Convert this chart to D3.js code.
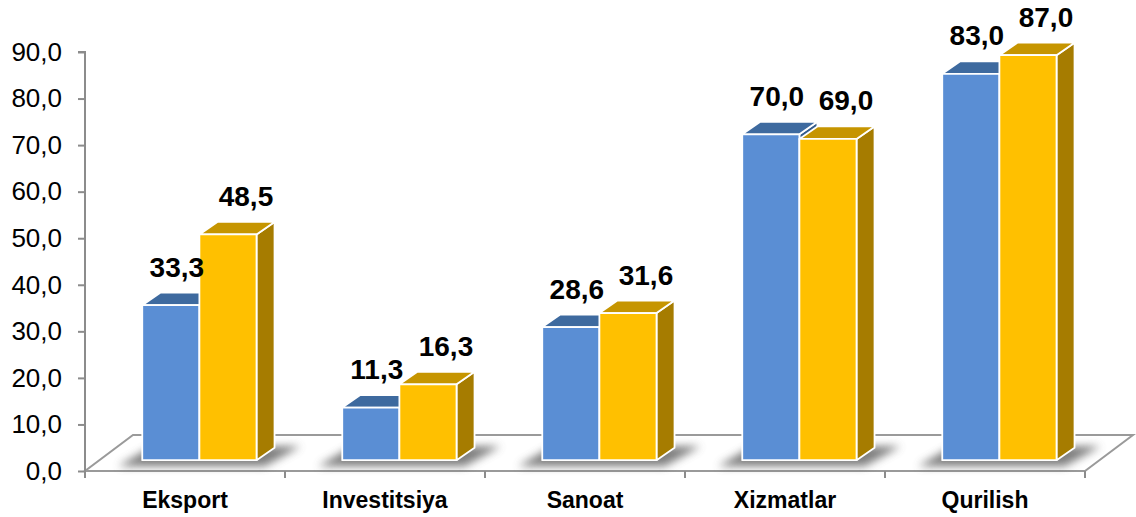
<!DOCTYPE html>
<html>
<head>
<meta charset="utf-8">
<script src="https://cdn.jsdelivr.net/npm/d3@7"></script>
<style>
  body { margin: 0; background: #fff; }
  svg { display: block; font-family: "Liberation Sans", Arial, sans-serif; }
</style>
</head>
<body>
<svg id="chart" width="1136" height="517"></svg>
<script>
// data
const categories = ['Eksport', 'Investitsiya', 'Sanoat', 'Xizmatlar', 'Qurilish']
const seriesNames = ['blue', 'gold']
const blueValues = [33.3, 11.3, 28.6, 70.0, 83.0]
const goldValues = [48.5, 16.3, 31.6, 69.0, 87.0]
const yTicks = [0, 10, 20, 30, 40, 50, 60, 70, 80, 90]

const colors = {
  blue: { front: '#5A8ED4', top: '#3E6A9F', side: '#355C8C' },
  gold: { front: '#FFC000', top: '#C69500', side: '#A67C00' }
}
const labelShift = { blue: -3, gold: 9 }

const svg = d3.select('#chart')

// geometry of the 3d box
const plotLeft = 85, plotRight = 1085, plotBottom = 471, plotTop = 52
const floorDX = 48, floorDY = -36
const setback = 0.3
const sbX = floorDX * setback, sbY = floorDY * setback
const barDX = 18, barDY = -12.5

const x = d3.scaleBand().domain(categories).range([plotLeft, plotRight]).paddingInner(0).paddingOuter(0)
const xs = d3.scaleBand().domain(seriesNames).range([0, x.bandwidth()]).paddingInner(0).paddingOuter(0.75)
const y = d3.scaleLinear().domain([0, 90]).range([plotBottom, plotTop])

const defs = svg.append('defs')
defs.append('filter').attr('id', 'shadow').attr('x', '-20%').attr('y', '-100%').attr('width', '140%').attr('height', '300%')
  .append('feGaussianBlur').attr('stdDeviation', 4)

// floor
svg.append('polygon')
  .attr('points', [[plotLeft, plotBottom], [plotRight, plotBottom], [plotRight + floorDX, plotBottom + floorDY], [plotLeft + floorDX, plotBottom + floorDY]].join(' '))
  .attr('fill', '#fff')
  .attr('stroke', '#9a9a9a')
  .attr('stroke-width', 2)

// y axis
const yAxis = d3.axisLeft(y)
  .tickValues(yTicks)
  .tickSize(7)
  .tickPadding(16)
  .tickFormat(d => d3.format('.1f')(d).replace('.', ','))

const gy = svg.append('g')
  .attr('transform', `translate(${plotLeft},0)`)
  .call(yAxis)
gy.select('.domain').attr('stroke', '#8c8c8c').attr('stroke-width', 2).attr('d', `M-7,${plotTop}H0V${plotBottom}`)
gy.selectAll('.tick line').attr('stroke', '#8c8c8c').attr('stroke-width', 2)
gy.selectAll('.tick text')
  .attr('fill', '#000')
  .style('font-size', '26px')
  .style('font-family', '"Liberation Sans", Arial, sans-serif')

// x axis ticks and labels
const gx = svg.append('g')
gx.selectAll('line')
  .data(categories)
  .enter()
  .append('line')
  .attr('x1', d => x(d) + x.bandwidth())
  .attr('x2', d => x(d) + x.bandwidth())
  .attr('y1', plotBottom)
  .attr('y2', plotBottom + 7)
  .attr('stroke', '#8c8c8c')
  .attr('stroke-width', 2)
gx.append('line')
  .attr('x1', plotLeft).attr('x2', plotLeft)
  .attr('y1', plotBottom).attr('y2', plotBottom + 7)
  .attr('stroke', '#8c8c8c').attr('stroke-width', 2)
gx.selectAll('text')
  .data(categories)
  .enter()
  .append('text')
  .attr('x', d => x(d) + x.bandwidth() / 2)
  .attr('y', 508)
  .attr('text-anchor', 'middle')
  .style('font-size', '23px')
  .style('font-weight', 'bold')
  .text(d => d)

// bars
const rows = categories.map((c, i) => ({ category: c, blue: blueValues[i], gold: goldValues[i] }))
const base = y(0) + sbY

// shadows on the floor
svg.append('g').selectAll('polygon')
  .data(rows)
  .enter()
  .append('polygon')
  .attr('points', d => {
    const x0 = x(d.category) + xs('blue') + sbX
    const x1 = x(d.category) + xs('gold') + xs.bandwidth() + sbX
    return [[x0 - 24, base + 6], [x1 + 8, base + 6], [x1 + barDX + 26, base - 14], [x0 + 10, base - 14]].join(' ')
  })
  .attr('fill', '#5f5f5f')
  .attr('opacity', 0.8)
  .attr('filter', 'url(#shadow)')

const barG = svg.append('g')
rows.forEach(row => {
  seriesNames.forEach(s => {
    const v = row[s]
    const x0 = x(row.category) + xs(s) + sbX
    const x1 = x0 + xs.bandwidth()
    const yt = y(v) + sbY
    const c = colors[s]
    const g = barG.append('g')
      .attr('stroke', '#fff')
      .attr('stroke-width', 1.8)
      .attr('stroke-linejoin', 'round')
    g.append('polygon')
      .attr('points', [[x1, base], [x1 + barDX, base + barDY], [x1 + barDX, yt + barDY], [x1, yt]].join(' '))
      .attr('fill', c.side)
    g.append('polygon')
      .attr('points', [[x0, yt], [x1, yt], [x1 + barDX, yt + barDY], [x0 + barDX, yt + barDY]].join(' '))
      .attr('fill', c.top)
    g.append('rect')
      .attr('x', x0).attr('y', yt)
      .attr('width', xs.bandwidth()).attr('height', base - yt)
      .attr('fill', c.front)
  })
})

// value labels
const labelG = svg.append('g')
rows.forEach(row => {
  seriesNames.forEach(s => {
    const v = row[s]
    labelG.append('text')
      .attr('x', x(row.category) + xs(s) + xs.bandwidth() / 2 + sbX + barDX / 2 + labelShift[s])
      .attr('y', y(v) + sbY + barDY - 16)
      .attr('text-anchor', 'middle')
      .style('font-size', '28px')
      .style('font-weight', 'bold')
      .text(d3.format('.1f')(v).replace('.', ','))
  })
})
</script>
</body>
</html>
